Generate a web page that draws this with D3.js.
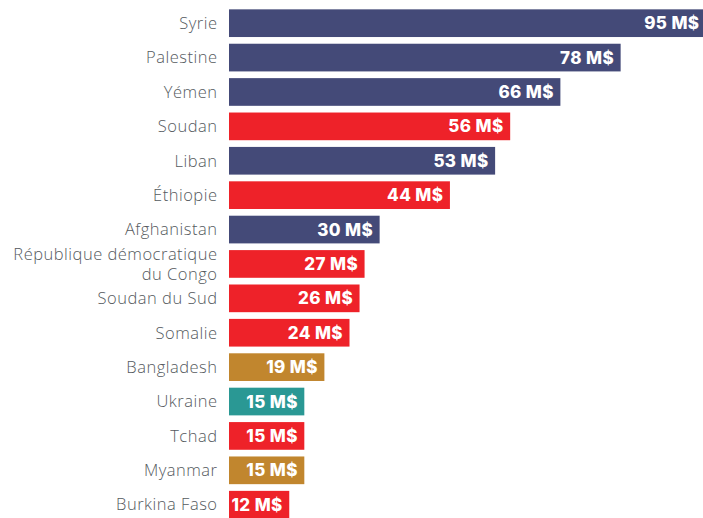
<!DOCTYPE html>
<html>
<head>
<meta charset="utf-8">
<script src="https://cdn.jsdelivr.net/npm/d3@7"></script>
<style>
  body { margin: 0; background: #fff; }
  svg { display: block; }
</style>
</head>
<body>
<svg id="chart" width="703" height="518"></svg>
<script>
// data
const countries = [
  'Syrie', 'Palestine', 'Yémen', 'Soudan', 'Liban', 'Éthiopie', 'Afghanistan',
  'République démocratique\ndu Congo', 'Soudan du Sud', 'Somalie', 'Bangladesh',
  'Ukraine', 'Tchad', 'Myanmar', 'Burkina Faso'
];
const amounts = [95, 78, 66, 56, 53, 44, 30, 27, 26, 24, 19, 15, 15, 15, 12];
const regions = [
  'mena', 'mena', 'mena', 'africa', 'mena', 'africa', 'mena',
  'africa', 'africa', 'africa', 'asia', 'europe', 'africa', 'asia', 'africa'
];

const regionColors = {
  mena: '#444a78',
  africa: '#ee2229',
  asia: '#c1862e',
  europe: '#2a9894'
};

const rows = countries.map((c, i) => ({name: c, value: amounts[i], region: regions[i]}));

const svg = d3.select('#chart');

const x = d3.scaleLinear().domain([0, 95]).range([229, 706]);
const y = d3
  .scaleBand()
  .domain(countries)
  .range([5.9, 522])
  .paddingInner(0.195)
  .paddingOuter(0.1);

const gRows = svg
  .selectAll('.row')
  .data(rows)
  .enter()
  .append('g')
  .attr('class', 'row');

gRows
  .append('rect')
  .attr('x', x(0))
  .attr('y', d => y(d.name))
  .attr('width', d => x(d.value) - x(0))
  .attr('height', y.bandwidth())
  .style('fill', d => regionColors[d.region]);

// value labels inside the bars
gRows
  .append('text')
  .attr('x', d => x(d.value) - 6.5)
  .attr('y', d => y(d.name) + y.bandwidth() / 2)
  .attr('dy', '0.36em')
  .attr('text-anchor', 'end')
  .style('font-family', 'Inter, "Open Sans", sans-serif')
  .style('font-weight', 800)
  .style('font-size', '17px')
  .style('letter-spacing', '0.4px')
  .style('fill', '#fff')
  .text(d => d.value + ' M$');

// country names, split on line breaks
gRows.each(function(d) {
  const lines = d.name.split('\n');
  const cy = y(d.name) + y.bandwidth() / 2;
  const t = d3
    .select(this)
    .append('text')
    .attr('text-anchor', 'end')
    .style('font-family', '"Open Sans", sans-serif')
    .style('font-weight', 300)
    .style('font-size', '16.5px')
    .style('letter-spacing', '0.5px')
    .style('fill', '#555a5e');
  lines.forEach((line, i) => {
    t.append('tspan')
      .attr('x', 217.5)
      .attr('y', cy + (i - (lines.length - 1) / 2) * 20)
      .attr('dy', '0.35em')
      .text(line);
  });
});
</script>
</body>
</html>
